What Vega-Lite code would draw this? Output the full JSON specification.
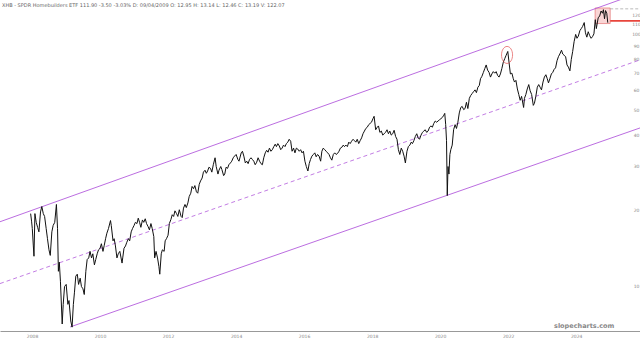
{
"$schema":"https://vega.github.io/schema/vega-lite/v6.json",
"width":640,"height":331,"padding":{"left":0,"top":0,"right":0,"bottom":10},"autosize":{"type":"none"},
"background":"white",
"config":{"view":{"stroke":null},"font":"DejaVu Sans"},
"title":{"text":"XHB - SPDR Homebuilders ETF   111.90  -3.50  -3.03%   D: 09/04/2009  O: 12.95  H: 13.14  L: 12.46  C: 13.19  V: 122.07","anchor":"start","fontSize":5,"fontWeight":"normal","color":"#666","offset":-8,"dx":2},
"datasets":{
"price":[
{"date":"2007-12-17","v":19.5},{"date":"2007-12-27","v":18.2},{"date":"2008-01-04","v":17.0},{"date":"2008-01-15","v":14.5},{"date":"2008-01-22","v":13.2},{"date":"2008-02-01","v":19.5},{"date":"2008-02-15","v":18.0},{"date":"2008-03-01","v":17.2},{"date":"2008-03-15","v":16.5},{"date":"2008-04-01","v":19.8},{"date":"2008-04-15","v":20.8},{"date":"2008-05-01","v":19.5},{"date":"2008-05-15","v":19.0},{"date":"2008-06-01","v":17.0},{"date":"2008-06-15","v":15.5},{"date":"2008-07-01","v":14.0},{"date":"2008-07-15","v":13.3},{"date":"2008-08-01","v":16.5},{"date":"2008-08-15","v":17.5},{"date":"2008-09-01","v":18.0},{"date":"2008-09-19","v":21.2},{"date":"2008-10-01","v":17.0},{"date":"2008-10-10","v":11.5},{"date":"2008-10-20","v":12.5},{"date":"2008-11-01","v":10.5},{"date":"2008-11-20","v":7.1},{"date":"2008-12-01","v":8.5},{"date":"2008-12-15","v":10.0},{"date":"2009-01-02","v":10.2},{"date":"2009-01-20","v":8.5},{"date":"2009-02-01","v":8.8},{"date":"2009-02-20","v":7.3},{"date":"2009-03-06","v":6.9},{"date":"2009-03-20","v":8.5},{"date":"2009-04-01","v":9.5},{"date":"2009-04-15","v":11.0},{"date":"2009-05-01","v":11.2},{"date":"2009-05-15","v":10.2},{"date":"2009-06-01","v":10.8},{"date":"2009-06-15","v":10.0},{"date":"2009-07-01","v":9.8},{"date":"2009-07-15","v":9.3},{"date":"2009-08-01","v":11.5},{"date":"2009-08-15","v":12.8},{"date":"2009-09-01","v":13.0},{"date":"2009-09-15","v":13.8},{"date":"2009-10-01","v":13.0},{"date":"2009-10-15","v":13.5},{"date":"2009-11-01","v":12.2},{"date":"2009-11-15","v":12.8},{"date":"2009-12-01","v":13.5},{"date":"2009-12-15","v":14.0},
{"date":"2010-01-01","v":14.2},{"date":"2010-01-15","v":14.8},{"date":"2010-02-01","v":13.8},{"date":"2010-02-15","v":14.6},{"date":"2010-03-01","v":15.5},{"date":"2010-03-15","v":16.3},{"date":"2010-04-01","v":17.0},{"date":"2010-04-23","v":18.3},{"date":"2010-05-01","v":17.5},{"date":"2010-05-20","v":15.2},{"date":"2010-06-01","v":15.5},{"date":"2010-06-15","v":14.5},{"date":"2010-07-01","v":13.0},{"date":"2010-07-15","v":13.5},{"date":"2010-08-01","v":13.8},{"date":"2010-08-25","v":12.4},{"date":"2010-09-01","v":13.0},{"date":"2010-09-15","v":14.2},{"date":"2010-10-01","v":14.5},{"date":"2010-10-15","v":15.0},{"date":"2010-11-01","v":15.5},{"date":"2010-11-15","v":15.2},{"date":"2010-12-01","v":16.5},{"date":"2010-12-15","v":17.0},
{"date":"2011-01-01","v":17.5},{"date":"2011-01-15","v":18.0},{"date":"2011-02-01","v":17.8},{"date":"2011-02-15","v":18.7},{"date":"2011-03-01","v":18.0},{"date":"2011-03-15","v":17.2},{"date":"2011-04-01","v":18.4},{"date":"2011-04-15","v":18.0},{"date":"2011-05-01","v":18.6},{"date":"2011-05-15","v":17.8},{"date":"2011-06-01","v":17.3},{"date":"2011-06-15","v":16.8},{"date":"2011-07-01","v":17.8},{"date":"2011-07-15","v":17.0},{"date":"2011-08-01","v":15.8},{"date":"2011-08-10","v":13.0},{"date":"2011-08-25","v":13.8},{"date":"2011-09-10","v":13.0},{"date":"2011-09-25","v":12.0},{"date":"2011-10-04","v":11.2},{"date":"2011-10-20","v":13.5},{"date":"2011-11-01","v":14.0},{"date":"2011-11-20","v":13.8},{"date":"2011-12-01","v":15.2},{"date":"2011-12-15","v":15.5},
{"date":"2012-01-01","v":16.0},{"date":"2012-01-15","v":17.8},{"date":"2012-02-01","v":18.5},{"date":"2012-02-15","v":19.3},{"date":"2012-03-01","v":19.0},{"date":"2012-03-15","v":20.0},{"date":"2012-04-01","v":19.5},{"date":"2012-04-15","v":19.0},{"date":"2012-05-01","v":20.2},{"date":"2012-05-20","v":19.0},{"date":"2012-06-01","v":18.8},{"date":"2012-06-15","v":20.5},{"date":"2012-07-01","v":21.2},{"date":"2012-07-15","v":20.6},{"date":"2012-08-01","v":21.5},{"date":"2012-08-15","v":22.8},{"date":"2012-09-01","v":23.5},{"date":"2012-09-15","v":25.0},{"date":"2012-10-01","v":24.5},{"date":"2012-10-15","v":25.2},{"date":"2012-11-01","v":23.8},{"date":"2012-11-15","v":23.5},{"date":"2012-12-01","v":25.5},{"date":"2012-12-15","v":26.3},
{"date":"2013-01-01","v":27.0},{"date":"2013-01-15","v":28.5},{"date":"2013-02-01","v":29.0},{"date":"2013-02-15","v":28.2},{"date":"2013-03-01","v":28.8},{"date":"2013-03-15","v":29.8},{"date":"2013-04-01","v":29.5},{"date":"2013-04-15","v":28.5},{"date":"2013-05-01","v":30.5},{"date":"2013-05-20","v":32.5},{"date":"2013-06-01","v":30.0},{"date":"2013-06-20","v":28.0},{"date":"2013-07-01","v":29.0},{"date":"2013-07-20","v":30.0},{"date":"2013-08-01","v":29.2},{"date":"2013-08-20","v":27.6},{"date":"2013-09-01","v":28.0},{"date":"2013-09-15","v":29.8},{"date":"2013-10-01","v":29.5},{"date":"2013-10-15","v":30.5},{"date":"2013-11-01","v":31.0},{"date":"2013-11-15","v":31.5},{"date":"2013-12-01","v":32.5},{"date":"2013-12-15","v":33.0},
{"date":"2014-01-01","v":33.5},{"date":"2014-01-20","v":32.0},{"date":"2014-02-01","v":31.5},{"date":"2014-02-25","v":34.0},{"date":"2014-03-10","v":34.5},{"date":"2014-03-25","v":33.0},{"date":"2014-04-10","v":31.0},{"date":"2014-04-25","v":31.5},{"date":"2014-05-10","v":30.8},{"date":"2014-05-25","v":32.0},{"date":"2014-06-10","v":32.5},{"date":"2014-06-25","v":32.0},{"date":"2014-07-10","v":31.5},{"date":"2014-07-25","v":30.5},{"date":"2014-08-10","v":31.2},{"date":"2014-08-25","v":32.5},{"date":"2014-09-10","v":31.5},{"date":"2014-09-25","v":30.8},{"date":"2014-10-10","v":30.5},{"date":"2014-10-25","v":32.5},{"date":"2014-11-10","v":34.0},{"date":"2014-11-25","v":34.8},{"date":"2014-12-10","v":34.2},{"date":"2014-12-25","v":35.5},
{"date":"2015-01-10","v":34.5},{"date":"2015-01-25","v":35.0},{"date":"2015-02-10","v":36.0},{"date":"2015-02-25","v":36.8},{"date":"2015-03-10","v":36.0},{"date":"2015-03-25","v":37.0},{"date":"2015-04-10","v":36.2},{"date":"2015-04-25","v":35.0},{"date":"2015-05-10","v":35.5},{"date":"2015-05-25","v":36.5},{"date":"2015-06-10","v":36.0},{"date":"2015-06-25","v":37.0},{"date":"2015-07-10","v":37.5},{"date":"2015-07-25","v":38.5},{"date":"2015-08-10","v":37.8},{"date":"2015-08-25","v":34.5},{"date":"2015-09-10","v":35.5},{"date":"2015-09-25","v":34.0},{"date":"2015-10-10","v":35.5},{"date":"2015-10-25","v":35.2},{"date":"2015-11-10","v":34.5},{"date":"2015-11-25","v":35.0},{"date":"2015-12-10","v":34.0},{"date":"2015-12-25","v":34.5},
{"date":"2016-01-10","v":31.5},{"date":"2016-01-25","v":30.0},{"date":"2016-02-11","v":28.8},{"date":"2016-02-25","v":30.8},{"date":"2016-03-10","v":32.0},{"date":"2016-03-25","v":33.0},{"date":"2016-04-10","v":33.5},{"date":"2016-04-25","v":34.0},{"date":"2016-05-10","v":32.8},{"date":"2016-05-25","v":33.5},{"date":"2016-06-10","v":33.0},{"date":"2016-06-27","v":31.5},{"date":"2016-07-10","v":34.5},{"date":"2016-07-25","v":35.5},{"date":"2016-08-10","v":35.0},{"date":"2016-08-25","v":34.5},{"date":"2016-09-10","v":34.0},{"date":"2016-09-25","v":33.5},{"date":"2016-10-10","v":32.5},{"date":"2016-10-25","v":31.8},{"date":"2016-11-10","v":33.5},{"date":"2016-11-25","v":34.0},{"date":"2016-12-10","v":33.5},{"date":"2016-12-25","v":33.8},
{"date":"2017-01-10","v":34.5},{"date":"2017-01-25","v":35.5},{"date":"2017-02-10","v":35.8},{"date":"2017-02-25","v":36.5},{"date":"2017-03-10","v":36.0},{"date":"2017-03-25","v":36.5},{"date":"2017-04-10","v":36.0},{"date":"2017-04-25","v":37.5},{"date":"2017-05-10","v":37.0},{"date":"2017-05-25","v":37.8},{"date":"2017-06-10","v":38.5},{"date":"2017-06-25","v":38.0},{"date":"2017-07-10","v":37.5},{"date":"2017-07-25","v":38.5},{"date":"2017-08-10","v":37.0},{"date":"2017-08-25","v":38.0},{"date":"2017-09-10","v":39.0},{"date":"2017-09-25","v":40.5},{"date":"2017-10-10","v":41.5},{"date":"2017-10-25","v":42.5},{"date":"2017-11-10","v":43.0},{"date":"2017-11-25","v":44.0},{"date":"2017-12-10","v":44.5},{"date":"2017-12-25","v":45.0},
{"date":"2018-01-10","v":46.5},{"date":"2018-01-22","v":47.5},{"date":"2018-02-08","v":42.0},{"date":"2018-02-25","v":43.0},{"date":"2018-03-10","v":43.5},{"date":"2018-03-25","v":41.0},{"date":"2018-04-10","v":41.5},{"date":"2018-04-25","v":40.0},{"date":"2018-05-10","v":40.5},{"date":"2018-05-25","v":41.0},{"date":"2018-06-10","v":42.0},{"date":"2018-06-25","v":40.5},{"date":"2018-07-10","v":41.5},{"date":"2018-07-25","v":40.0},{"date":"2018-08-10","v":40.5},{"date":"2018-08-25","v":41.8},{"date":"2018-09-10","v":39.5},{"date":"2018-09-25","v":38.5},{"date":"2018-10-10","v":35.0},{"date":"2018-10-25","v":33.5},{"date":"2018-11-10","v":35.5},{"date":"2018-11-25","v":34.5},{"date":"2018-12-10","v":33.0},{"date":"2018-12-24","v":31.0},
{"date":"2019-01-10","v":34.5},{"date":"2019-01-25","v":36.0},{"date":"2019-02-10","v":36.5},{"date":"2019-02-25","v":37.5},{"date":"2019-03-10","v":37.0},{"date":"2019-03-25","v":38.0},{"date":"2019-04-10","v":39.5},{"date":"2019-04-25","v":40.5},{"date":"2019-05-10","v":39.0},{"date":"2019-05-25","v":38.5},{"date":"2019-06-10","v":40.0},{"date":"2019-06-25","v":41.0},{"date":"2019-07-10","v":41.5},{"date":"2019-07-25","v":42.0},{"date":"2019-08-10","v":41.0},{"date":"2019-08-25","v":41.5},{"date":"2019-09-10","v":43.0},{"date":"2019-09-25","v":43.5},{"date":"2019-10-10","v":43.0},{"date":"2019-10-25","v":44.5},{"date":"2019-11-10","v":45.5},{"date":"2019-11-25","v":45.0},{"date":"2019-12-10","v":45.5},{"date":"2019-12-25","v":46.0},
{"date":"2020-01-10","v":46.5},{"date":"2020-01-25","v":47.0},{"date":"2020-02-10","v":48.0},{"date":"2020-02-20","v":48.8},{"date":"2020-03-01","v":44.0},{"date":"2020-03-10","v":38.0},{"date":"2020-03-18","v":23.0},{"date":"2020-03-26","v":30.0},{"date":"2020-04-05","v":28.0},{"date":"2020-04-15","v":33.5},{"date":"2020-04-25","v":35.0},{"date":"2020-05-10","v":36.5},{"date":"2020-05-25","v":42.0},{"date":"2020-06-10","v":44.0},{"date":"2020-06-25","v":42.5},{"date":"2020-07-10","v":45.0},{"date":"2020-07-25","v":49.0},{"date":"2020-08-10","v":51.5},{"date":"2020-08-25","v":52.0},{"date":"2020-09-10","v":50.5},{"date":"2020-09-25","v":51.0},{"date":"2020-10-10","v":54.0},{"date":"2020-10-25","v":51.0},{"date":"2020-11-10","v":56.0},{"date":"2020-11-25","v":57.5},{"date":"2020-12-10","v":58.5},{"date":"2020-12-25","v":59.5},
{"date":"2021-01-10","v":60.5},{"date":"2021-01-25","v":59.0},{"date":"2021-02-10","v":62.0},{"date":"2021-02-25","v":63.0},{"date":"2021-03-10","v":67.0},{"date":"2021-03-25","v":68.5},{"date":"2021-04-10","v":71.0},{"date":"2021-04-25","v":73.5},{"date":"2021-05-10","v":76.0},{"date":"2021-05-25","v":72.5},{"date":"2021-06-10","v":71.0},{"date":"2021-06-25","v":68.0},{"date":"2021-07-10","v":70.0},{"date":"2021-07-25","v":71.5},{"date":"2021-08-10","v":70.5},{"date":"2021-08-25","v":71.5},{"date":"2021-09-10","v":69.0},{"date":"2021-09-25","v":68.0},{"date":"2021-10-10","v":70.0},{"date":"2021-10-25","v":73.5},{"date":"2021-11-10","v":78.0},{"date":"2021-11-25","v":80.5},{"date":"2021-12-10","v":83.0},{"date":"2021-12-28","v":86.0},
{"date":"2022-01-10","v":78.0},{"date":"2022-01-25","v":70.0},{"date":"2022-02-10","v":70.5},{"date":"2022-02-25","v":67.0},{"date":"2022-03-10","v":65.0},{"date":"2022-03-25","v":66.0},{"date":"2022-04-10","v":61.0},{"date":"2022-04-25","v":58.0},{"date":"2022-05-10","v":55.0},{"date":"2022-05-25","v":57.0},{"date":"2022-06-16","v":51.5},{"date":"2022-06-25","v":56.0},{"date":"2022-07-10","v":58.0},{"date":"2022-07-25","v":61.0},{"date":"2022-08-10","v":63.5},{"date":"2022-08-25","v":60.0},{"date":"2022-09-10","v":58.0},{"date":"2022-09-28","v":52.5},{"date":"2022-10-10","v":53.5},{"date":"2022-10-25","v":57.0},{"date":"2022-11-10","v":62.0},{"date":"2022-11-25","v":63.5},{"date":"2022-12-10","v":62.0},{"date":"2022-12-25","v":60.5},
{"date":"2023-01-10","v":65.0},{"date":"2023-01-25","v":68.0},{"date":"2023-02-10","v":69.5},{"date":"2023-02-25","v":67.0},{"date":"2023-03-10","v":64.5},{"date":"2023-03-25","v":67.0},{"date":"2023-04-10","v":70.0},{"date":"2023-04-25","v":71.0},{"date":"2023-05-10","v":73.0},{"date":"2023-05-25","v":74.0},{"date":"2023-06-10","v":79.0},{"date":"2023-06-25","v":82.0},{"date":"2023-07-10","v":84.0},{"date":"2023-07-28","v":87.0},{"date":"2023-08-10","v":84.0},{"date":"2023-08-25","v":83.0},{"date":"2023-09-10","v":82.0},{"date":"2023-09-25","v":76.0},{"date":"2023-10-10","v":74.5},{"date":"2023-10-26","v":72.0},{"date":"2023-11-10","v":80.0},{"date":"2023-11-25","v":86.0},{"date":"2023-12-10","v":94.0},{"date":"2023-12-27","v":100.5},
{"date":"2024-01-10","v":97.0},{"date":"2024-01-25","v":99.0},{"date":"2024-02-10","v":104.0},{"date":"2024-02-25","v":106.0},{"date":"2024-03-10","v":108.0},{"date":"2024-03-28","v":112.0},{"date":"2024-04-10","v":102.0},{"date":"2024-04-25","v":98.0},{"date":"2024-05-10","v":103.0},{"date":"2024-05-25","v":99.5},{"date":"2024-06-10","v":97.0},{"date":"2024-06-25","v":98.5},{"date":"2024-07-10","v":101.0},{"date":"2024-07-25","v":115.0},{"date":"2024-08-05","v":106.0},{"date":"2024-08-25","v":117.0},{"date":"2024-09-10","v":119.0},{"date":"2024-09-25","v":124.5},{"date":"2024-10-10","v":122.0},{"date":"2024-10-20","v":126.0},{"date":"2024-11-01","v":116.0},{"date":"2024-11-12","v":125.0},{"date":"2024-11-25","v":122.0},{"date":"2024-12-06","v":111.9}
],
"channels":[
{"line":"upper","date":"2007-01-22","v":18.1},{"line":"upper","date":"2025-11-17","v":147.3},
{"line":"lower","date":"2009-02-13","v":6.91},{"line":"lower","date":"2025-11-17","v":42.7}
],
"mid":[{"date":"2007-01-22","v":10.28},{"date":"2025-11-17","v":79.6}],
"box":[{"date":"2024-07-23","date2":"2025-01-01","v":111,"v2":128}],
"hlines":[{"kind":"last","date":"2025-01-01","date2":"2025-11-17","v":113.8},{"kind":"high","date":"2025-01-01","date2":"2025-11-17","v":127}],
"circle":[{"date":"2021-12-20","v":83.3}],
"mark":[{"text":"slopecharts.com","date":"2024-03-27","v":7.0}]
},
"encoding":{
"x":{"field":"date","type":"temporal","scale":{"domain":["2007-01-22","2025-11-17"]},
 "axis":{"title":null,"grid":false,"ticks":false,"format":"%Y","labelFontSize":4.5,"labelColor":"#888","labelPadding":2,"labelBaseline":"top","domainColor":"#999","domainWidth":1,"labelBound":false,"labelOverlap":false,"values":[{"year":2008,"month":1,"date":1},{"year":2010,"month":1,"date":1},{"year":2012,"month":1,"date":1},{"year":2014,"month":1,"date":1},{"year":2016,"month":1,"date":1},{"year":2018,"month":1,"date":1},{"year":2020,"month":1,"date":1},{"year":2022,"month":1,"date":1},{"year":2024,"month":1,"date":1}]}},
"y":{"field":"v","type":"quantitative","scale":{"type":"log","domain":[6.66,137.7],"nice":false},
 "axis":{"title":null,"orient":"right","offset":-4,"grid":false,"ticks":false,"domain":false,"labelAlign":"center","labelPadding":0,"labelFontSize":4.5,"labelColor":"#888","format":"d","values":[10,20,30,40,50,60,70,80,90,100,110,120]}}
},
"layer":[
{"data":{"name":"box"},"mark":{"type":"rect","fill":"#f6c3c3","fillOpacity":0.7,"stroke":"#e06060","strokeWidth":0.6},"encoding":{"x2":{"field":"date2"},"y2":{"field":"v2"}}},
{"data":{"name":"channels"},"mark":{"type":"line","clip":true,"color":"#b35cdc","strokeWidth":0.9},"encoding":{"detail":{"field":"line"}}},
{"data":{"name":"mid"},"mark":{"type":"line","clip":true,"color":"#b35cdc","strokeWidth":0.8,"strokeDash":[4,3]},"encoding":{}},
{"data":{"name":"price"},"mark":{"type":"line","clip":true,"color":"#111","strokeWidth":1},"encoding":{}},
{"data":{"name":"hlines"},"mark":{"type":"rule","clip":true},"encoding":{"x2":{"field":"date2"},"color":{"field":"kind","type":"nominal","scale":{"domain":["last","high"],"range":["#e8453c","#aaaaaa"]},"legend":null},"strokeWidth":{"field":"kind","type":"nominal","scale":{"domain":["last","high"],"range":[1.6,0.8]},"legend":null},"strokeDash":{"field":"kind","type":"nominal","scale":{"domain":["last","high"],"range":[[1,0],[3,2]]},"legend":null}}},
{"data":{"name":"circle"},"mark":{"type":"point","shape":"M0,-1A0.65,1,0,1,1,0,1A0.65,1,0,1,1,0,-1Z","size":289,"filled":false,"stroke":"#e04040","strokeWidth":0.9},"encoding":{}},
{"data":{"name":"mark"},"mark":{"type":"text","fontSize":6.5,"fontWeight":"bold","color":"#888","align":"center","baseline":"middle"},"encoding":{"text":{"field":"text"}}}
]
}
